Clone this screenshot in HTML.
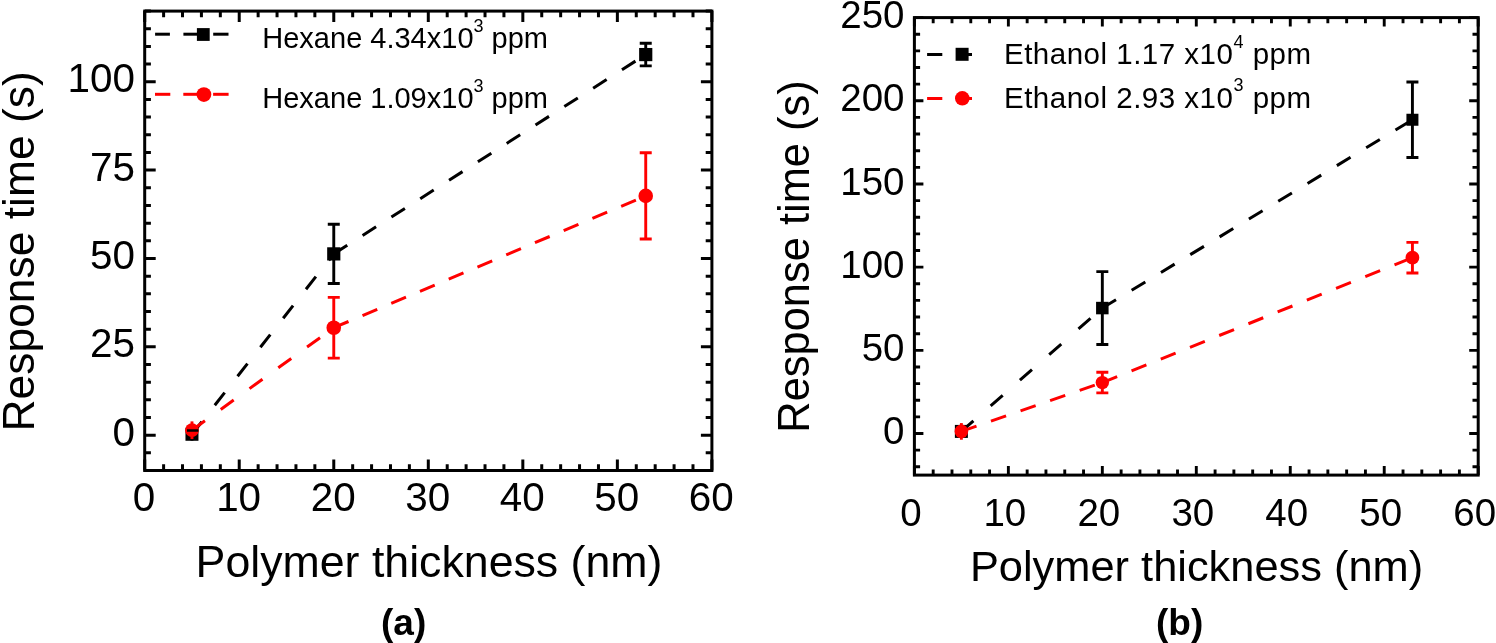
<!DOCTYPE html><html><head><meta charset="utf-8"><style>html,body{margin:0;padding:0;background:#fff;width:1496px;height:643px;overflow:hidden}svg{display:block;will-change:transform}text{font-family:"Liberation Sans", sans-serif;fill:#000}</style></head><body>
<svg width="1496" height="643" viewBox="0 0 1496 643">
<rect width="1496" height="643" fill="#fff"/>
<path d="M144.7 470.5v-11M144.7 11.1v11M163.61 470.5v-6.2M163.61 11.1v6.2M182.51 470.5v-6.2M182.51 11.1v6.2M201.42 470.5v-6.2M201.42 11.1v6.2M220.33 470.5v-6.2M220.33 11.1v6.2M239.23 470.5v-11M239.23 11.1v11M258.14 470.5v-6.2M258.14 11.1v6.2M277.05 470.5v-6.2M277.05 11.1v6.2M295.95 470.5v-6.2M295.95 11.1v6.2M314.86 470.5v-6.2M314.86 11.1v6.2M333.77 470.5v-11M333.77 11.1v11M352.67 470.5v-6.2M352.67 11.1v6.2M371.58 470.5v-6.2M371.58 11.1v6.2M390.49 470.5v-6.2M390.49 11.1v6.2M409.39 470.5v-6.2M409.39 11.1v6.2M428.3 470.5v-11M428.3 11.1v11M447.21 470.5v-6.2M447.21 11.1v6.2M466.11 470.5v-6.2M466.11 11.1v6.2M485.02 470.5v-6.2M485.02 11.1v6.2M503.93 470.5v-6.2M503.93 11.1v6.2M522.83 470.5v-11M522.83 11.1v11M541.74 470.5v-6.2M541.74 11.1v6.2M560.65 470.5v-6.2M560.65 11.1v6.2M579.55 470.5v-6.2M579.55 11.1v6.2M598.46 470.5v-6.2M598.46 11.1v6.2M617.37 470.5v-11M617.37 11.1v11M636.27 470.5v-6.2M636.27 11.1v6.2M655.18 470.5v-6.2M655.18 11.1v6.2M674.09 470.5v-6.2M674.09 11.1v6.2M692.99 470.5v-6.2M692.99 11.1v6.2M711.9 470.5v-11M711.9 11.1v11M144.7 470.5h6.2M711.9 470.5h-6.2M144.7 452.83h6.2M711.9 452.83h-6.2M144.7 435.16h11M711.9 435.16h-11M144.7 417.49h6.2M711.9 417.49h-6.2M144.7 399.82h6.2M711.9 399.82h-6.2M144.7 382.15h6.2M711.9 382.15h-6.2M144.7 364.48h6.2M711.9 364.48h-6.2M144.7 346.82h11M711.9 346.82h-11M144.7 329.15h6.2M711.9 329.15h-6.2M144.7 311.48h6.2M711.9 311.48h-6.2M144.7 293.81h6.2M711.9 293.81h-6.2M144.7 276.14h6.2M711.9 276.14h-6.2M144.7 258.47h11M711.9 258.47h-11M144.7 240.8h6.2M711.9 240.8h-6.2M144.7 223.13h6.2M711.9 223.13h-6.2M144.7 205.46h6.2M711.9 205.46h-6.2M144.7 187.79h6.2M711.9 187.79h-6.2M144.7 170.12h11M711.9 170.12h-11M144.7 152.45h6.2M711.9 152.45h-6.2M144.7 134.78h6.2M711.9 134.78h-6.2M144.7 117.12h6.2M711.9 117.12h-6.2M144.7 99.45h6.2M711.9 99.45h-6.2M144.7 81.78h11M711.9 81.78h-11M144.7 64.11h6.2M711.9 64.11h-6.2M144.7 46.44h6.2M711.9 46.44h-6.2M144.7 28.77h6.2M711.9 28.77h-6.2M144.7 11.1h6.2M711.9 11.1h-6.2" stroke="#000" stroke-width="3" fill="none"/>
<rect x="144.7" y="11.1" width="567.2" height="459.4" fill="none" stroke="#000" stroke-width="3"/>
<text x="144.1" y="510.6" font-size="40.4" text-anchor="middle">0</text>
<text x="238.63" y="510.6" font-size="40.4" text-anchor="middle">10</text>
<text x="333.17" y="510.6" font-size="40.4" text-anchor="middle">20</text>
<text x="427.7" y="510.6" font-size="40.4" text-anchor="middle">30</text>
<text x="522.23" y="510.6" font-size="40.4" text-anchor="middle">40</text>
<text x="616.77" y="510.6" font-size="40.4" text-anchor="middle">50</text>
<text x="711.3" y="510.6" font-size="40.4" text-anchor="middle">60</text>
<text x="135" y="445.66" font-size="40.4" text-anchor="end">0</text>
<text x="135" y="357.32" font-size="40.4" text-anchor="end">25</text>
<text x="135" y="268.97" font-size="40.4" text-anchor="end">50</text>
<text x="135" y="180.62" font-size="40.4" text-anchor="end">75</text>
<text x="135" y="92.28" font-size="40.4" text-anchor="end">100</text>
<text x="195.6" y="577.4" font-size="44.7">Polymer thickness (nm)</text>
<text transform="translate(33.8,431.5) rotate(-90)" font-size="44.4">Response time (s)</text>
<text x="381" y="634.5" font-size="37" font-weight="bold">(a)</text>
<line x1="191.97" y1="434.28" x2="333.77" y2="253.88" stroke="#000" stroke-width="3" stroke-dasharray="16 20.9"/>
<line x1="333.77" y1="253.88" x2="645.73" y2="54.57" stroke="#000" stroke-width="3" stroke-dasharray="16 18.2"/>
<path d="M191.97 427.92V440.64" stroke="#000" stroke-width="2.9" fill="none"/>
<rect x="185.47" y="427.78" width="13" height="13" fill="#000"/>
<path d="M333.77 224.19V283.56M327.77 224.19h12M327.77 283.56h12" stroke="#000" stroke-width="2.9" fill="none"/>
<rect x="327.17" y="247.28" width="13.2" height="13.2" fill="#000"/>
<path d="M645.73 43.26V65.87M639.73 43.26h12M639.73 65.87h12" stroke="#000" stroke-width="2.9" fill="none"/>
<rect x="639.13" y="47.97" width="13.2" height="13.2" fill="#000"/>
<line x1="191.97" y1="430.21" x2="333.77" y2="327.73" stroke="#f00" stroke-width="3" stroke-dasharray="16 19.5"/>
<line x1="333.77" y1="327.73" x2="645.73" y2="195.92" stroke="#f00" stroke-width="3" stroke-dasharray="16 15.2"/>
<path d="M191.97 421.38V439.05" stroke="#f00" stroke-width="2.9" fill="none"/>
<circle cx="191.97" cy="430.21" r="6.9" fill="#f00"/>
<path d="M333.77 297.34V358.12M327.77 297.34h12M327.77 358.12h12" stroke="#f00" stroke-width="2.9" fill="none"/>
<circle cx="333.77" cy="327.73" r="7.3" fill="#f00"/>
<path d="M645.73 152.81V239.03M639.73 152.81h12M639.73 239.03h12" stroke="#f00" stroke-width="2.9" fill="none"/>
<circle cx="645.73" cy="195.92" r="7.3" fill="#f00"/>
<line x1="155.1" y1="34.2" x2="169.9" y2="34.2" stroke="#000" stroke-width="3"/>
<line x1="183.4" y1="34.2" x2="199" y2="34.2" stroke="#000" stroke-width="3"/>
<line x1="213.2" y1="34.2" x2="228.5" y2="34.2" stroke="#000" stroke-width="3"/>
<rect x="196.9" y="28.1" width="12.8" height="12.8" fill="#000"/>
<text x="262.3" y="47.8" font-size="29" letter-spacing="0">Hexane 4.34x10<tspan dy="-15.5" font-size="18">3</tspan><tspan dy="15.5"> ppm</tspan></text>
<line x1="155" y1="94.3" x2="170.3" y2="94.3" stroke="#f00" stroke-width="3"/>
<line x1="183.3" y1="94.3" x2="199" y2="94.3" stroke="#f00" stroke-width="3"/>
<line x1="213.1" y1="94.3" x2="228.6" y2="94.3" stroke="#f00" stroke-width="3"/>
<circle cx="203.9" cy="94.6" r="7.4" fill="#f00"/>
<text x="262.3" y="107.6" font-size="29" letter-spacing="0">Hexane 1.09x10<tspan dy="-15.5" font-size="18">3</tspan><tspan dy="15.5"> ppm</tspan></text>
<path d="M187 430.5H198.4" stroke="#000" stroke-width="2.5"/>
<path d="M914.4 475.1v-9M914.4 17.6v9M933.19 475.1v-5.7M933.19 17.6v5.7M951.99 475.1v-5.7M951.99 17.6v5.7M970.78 475.1v-5.7M970.78 17.6v5.7M989.57 475.1v-5.7M989.57 17.6v5.7M1008.37 475.1v-9M1008.37 17.6v9M1027.16 475.1v-5.7M1027.16 17.6v5.7M1045.95 475.1v-5.7M1045.95 17.6v5.7M1064.75 475.1v-5.7M1064.75 17.6v5.7M1083.54 475.1v-5.7M1083.54 17.6v5.7M1102.33 475.1v-9M1102.33 17.6v9M1121.13 475.1v-5.7M1121.13 17.6v5.7M1139.92 475.1v-5.7M1139.92 17.6v5.7M1158.71 475.1v-5.7M1158.71 17.6v5.7M1177.51 475.1v-5.7M1177.51 17.6v5.7M1196.3 475.1v-9M1196.3 17.6v9M1215.09 475.1v-5.7M1215.09 17.6v5.7M1233.89 475.1v-5.7M1233.89 17.6v5.7M1252.68 475.1v-5.7M1252.68 17.6v5.7M1271.47 475.1v-5.7M1271.47 17.6v5.7M1290.27 475.1v-9M1290.27 17.6v9M1309.06 475.1v-5.7M1309.06 17.6v5.7M1327.85 475.1v-5.7M1327.85 17.6v5.7M1346.65 475.1v-5.7M1346.65 17.6v5.7M1365.44 475.1v-5.7M1365.44 17.6v5.7M1384.23 475.1v-9M1384.23 17.6v9M1403.03 475.1v-5.7M1403.03 17.6v5.7M1421.82 475.1v-5.7M1421.82 17.6v5.7M1440.61 475.1v-5.7M1440.61 17.6v5.7M1459.41 475.1v-5.7M1459.41 17.6v5.7M1478.2 475.1v-9M1478.2 17.6v9M914.4 466.78h5.7M1478.2 466.78h-5.7M914.4 450.15h5.7M1478.2 450.15h-5.7M914.4 433.51h9M1478.2 433.51h-9M914.4 416.87h5.7M1478.2 416.87h-5.7M914.4 400.24h5.7M1478.2 400.24h-5.7M914.4 383.6h5.7M1478.2 383.6h-5.7M914.4 366.96h5.7M1478.2 366.96h-5.7M914.4 350.33h9M1478.2 350.33h-9M914.4 333.69h5.7M1478.2 333.69h-5.7M914.4 317.05h5.7M1478.2 317.05h-5.7M914.4 300.42h5.7M1478.2 300.42h-5.7M914.4 283.78h5.7M1478.2 283.78h-5.7M914.4 267.15h9M1478.2 267.15h-9M914.4 250.51h5.7M1478.2 250.51h-5.7M914.4 233.87h5.7M1478.2 233.87h-5.7M914.4 217.24h5.7M1478.2 217.24h-5.7M914.4 200.6h5.7M1478.2 200.6h-5.7M914.4 183.96h9M1478.2 183.96h-9M914.4 167.33h5.7M1478.2 167.33h-5.7M914.4 150.69h5.7M1478.2 150.69h-5.7M914.4 134.05h5.7M1478.2 134.05h-5.7M914.4 117.42h5.7M1478.2 117.42h-5.7M914.4 100.78h9M1478.2 100.78h-9M914.4 84.15h5.7M1478.2 84.15h-5.7M914.4 67.51h5.7M1478.2 67.51h-5.7M914.4 50.87h5.7M1478.2 50.87h-5.7M914.4 34.24h5.7M1478.2 34.24h-5.7M914.4 17.6h9M1478.2 17.6h-9" stroke="#000" stroke-width="2.9" fill="none"/>
<rect x="914.4" y="17.6" width="563.8" height="457.5" fill="none" stroke="#000" stroke-width="3"/>
<text x="910.9" y="525.7" font-size="38.5" text-anchor="middle">0</text>
<text x="1004.87" y="525.7" font-size="38.5" text-anchor="middle">10</text>
<text x="1098.83" y="525.7" font-size="38.5" text-anchor="middle">20</text>
<text x="1192.8" y="525.7" font-size="38.5" text-anchor="middle">30</text>
<text x="1286.77" y="525.7" font-size="38.5" text-anchor="middle">40</text>
<text x="1380.73" y="525.7" font-size="38.5" text-anchor="middle">50</text>
<text x="1474.7" y="525.7" font-size="38.5" text-anchor="middle">60</text>
<text x="904.5" y="444.21" font-size="38.5" text-anchor="end">0</text>
<text x="904.5" y="361.03" font-size="38.5" text-anchor="end">50</text>
<text x="904.5" y="277.85" font-size="38.5" text-anchor="end">100</text>
<text x="904.5" y="194.66" font-size="38.5" text-anchor="end">150</text>
<text x="904.5" y="111.48" font-size="38.5" text-anchor="end">200</text>
<text x="904.5" y="28.3" font-size="38.5" text-anchor="end">250</text>
<text x="969.9" y="580.9" font-size="43.4">Polymer thickness (nm)</text>
<text transform="translate(808.7,432.7) rotate(-90)" font-size="43.45">Response time (s)</text>
<text x="1156" y="634.5" font-size="37" font-weight="bold">(b)</text>
<line x1="961.38" y1="431.41" x2="1102.33" y2="308.07" stroke="#000" stroke-width="3" stroke-dasharray="16 22.9"/>
<line x1="1102.33" y1="308.07" x2="1412.42" y2="119.75" stroke="#000" stroke-width="3" stroke-dasharray="16 18.3"/>
<rect x="954.88" y="424.91" width="13" height="13" fill="#000"/>
<path d="M1102.33 271.64V344.5M1096.33 271.64h12M1096.33 344.5h12" stroke="#000" stroke-width="2.9" fill="none"/>
<rect x="1096.08" y="301.82" width="12.5" height="12.5" fill="#000"/>
<path d="M1412.42 81.98V157.51M1406.42 81.98h12M1406.42 157.51h12" stroke="#000" stroke-width="2.9" fill="none"/>
<rect x="1406.42" y="113.75" width="12" height="12" fill="#000"/>
<line x1="961.38" y1="431.41" x2="1102.33" y2="382.6" stroke="#f00" stroke-width="3" stroke-dasharray="16 15.3"/>
<line x1="1102.33" y1="382.6" x2="1412.42" y2="257.66" stroke="#f00" stroke-width="3" stroke-dasharray="16 15.5"/>
<path d="M961.38 423.09V439.73" stroke="#f00" stroke-width="2.9" fill="none"/>
<circle cx="961.38" cy="431.41" r="6.8" fill="#f00"/>
<path d="M1102.33 372.29V392.92M1096.33 372.29h12M1096.33 392.92h12" stroke="#f00" stroke-width="2.9" fill="none"/>
<circle cx="1102.33" cy="382.6" r="6.7" fill="#f00"/>
<path d="M1412.42 242.36V272.97M1406.42 242.36h12M1406.42 272.97h12" stroke="#f00" stroke-width="2.9" fill="none"/>
<circle cx="1412.42" cy="257.66" r="6.9" fill="#f00"/>
<line x1="927.1" y1="54.5" x2="942.3" y2="54.5" stroke="#000" stroke-width="3"/>
<line x1="956" y1="54.5" x2="972" y2="54.5" stroke="#000" stroke-width="3"/>
<rect x="955.6" y="47.8" width="13" height="13" fill="#000"/>
<text x="1004" y="64.1" font-size="29.5" letter-spacing="0.5">Ethanol 1.17 x10<tspan dy="-16.5" font-size="18">4</tspan><tspan dy="16.5"> ppm</tspan></text>
<line x1="927.1" y1="98.5" x2="942.3" y2="98.5" stroke="#f00" stroke-width="3"/>
<line x1="956" y1="98.5" x2="972" y2="98.5" stroke="#f00" stroke-width="3"/>
<circle cx="962.3" cy="98.3" r="7.3" fill="#f00"/>
<text x="1004" y="107.8" font-size="29.5" letter-spacing="0.5">Ethanol 2.93 x10<tspan dy="-16.5" font-size="18">3</tspan><tspan dy="16.5"> ppm</tspan></text>
</svg></body></html>
